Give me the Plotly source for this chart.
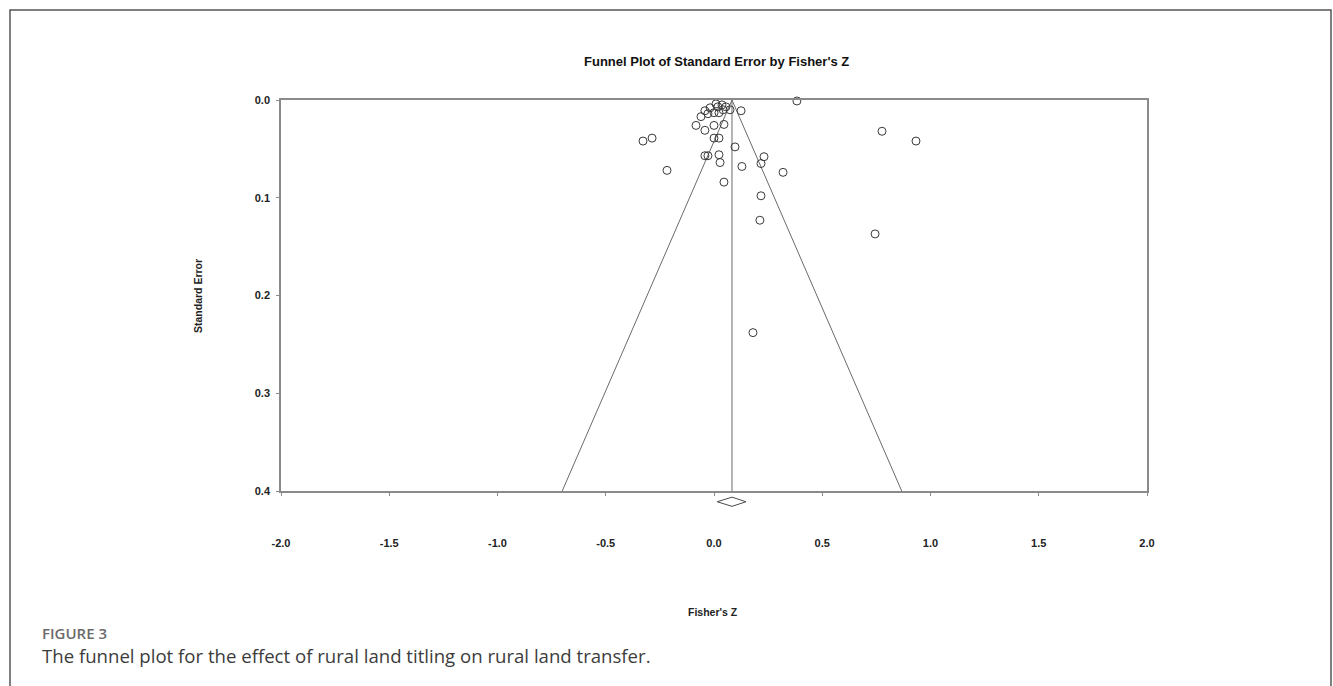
import plotly.graph_objects as go

# Study-level effect sizes (Fisher's Z) and their standard errors
fisher_z = [
    0.383, 0.125, 0.074, 0.009, -0.042, -0.018, 0.018, 0.042, 0.000, 0.037,
    -0.028, 0.023, 0.055, -0.060, -0.083, -0.042, 0.000, 0.046, -0.328, -0.286,
    0.000, 0.023, 0.097, -0.042, -0.028, 0.023, 0.028, 0.231, 0.217, 0.129,
    0.319, -0.217, 0.046, 0.217, 0.212, 0.776, 0.933, 0.744, 0.180,
]
std_err = [
    0.001, 0.011, 0.010, 0.004, 0.011, 0.008, 0.007, 0.010, 0.013, 0.005,
    0.014, 0.013, 0.007, 0.017, 0.026, 0.031, 0.026, 0.025, 0.042, 0.039,
    0.039, 0.039, 0.048, 0.057, 0.057, 0.056, 0.064, 0.058, 0.065, 0.068,
    0.074, 0.072, 0.084, 0.098, 0.123, 0.032, 0.042, 0.137, 0.238,
]

# Pooled estimate and its confidence interval
pooled_z = 0.083
pooled_lo = 0.015
pooled_hi = 0.148
z_crit = 1.96
se_max = 0.4

x_tick_vals = [-2.0, -1.5, -1.0, -0.5, 0.0, 0.5, 1.0, 1.5, 2.0]
x_tick_text = ["-2.0", "-1.5", "-1.0", "-0.5", "0.0", "0.5", "1.0", "1.5", "2.0"]
y_tick_vals = [0.0, 0.1, 0.2, 0.3, 0.4]
y_tick_text = ["0.0", "0.1", "0.2", "0.3", "0.4"]

W, H = 1333, 686
# plot area in pixels
px_left, px_right, px_top, px_bottom = 281, 1147, 100, 491
px_diamond_bottom = 520

dom_x = [px_left / W, px_right / W]
dom_y = [1 - px_bottom / H, 1 - px_top / H]
dom_y2 = [1 - px_diamond_bottom / H, 1 - px_top / H]
y2_max = se_max * (dom_y2[1] - dom_y2[0]) / (dom_y[1] - dom_y[0])

line_col = "#6a6a6a"
frame_col = "#8a8a8a"
bold_font = "Liberation Sans"

fig = go.Figure()

# funnel: pooled line and pseudo 95% limits
fig.add_trace(go.Scatter(
    x=[pooled_z - z_crit * se_max, pooled_z, pooled_z + z_crit * se_max],
    y=[se_max, 0, se_max],
    mode="lines", line=dict(color=line_col, width=1), hoverinfo="skip",
))
fig.add_trace(go.Scatter(
    x=[pooled_z, pooled_z], y=[0, se_max],
    mode="lines", line=dict(color=line_col, width=1), hoverinfo="skip",
))

# studies
fig.add_trace(go.Scatter(
    x=fisher_z, y=std_err, mode="markers",
    marker=dict(symbol="circle-open", size=8, color="#3a3a3a",
                line=dict(width=1, color="#3a3a3a")),
    cliponaxis=False,
))

# pooled diamond drawn below the axis on an auxiliary subplot
d_h = 0.0047
d_y = 0.411
fig.add_trace(go.Scatter(
    x=[pooled_lo, pooled_z, pooled_hi, pooled_z, pooled_lo],
    y=[d_y, d_y - d_h, d_y, d_y + d_h, d_y],
    mode="lines", line=dict(color="#4a4a4a", width=1),
    xaxis="x2", yaxis="y2", hoverinfo="skip",
))

fig.update_layout(
    width=W, height=H, autosize=False,
    margin=dict(l=0, r=0, t=0, b=0, pad=0, autoexpand=False),
    paper_bgcolor="white", plot_bgcolor="rgba(0,0,0,0)",
    showlegend=False,
    xaxis=dict(
        domain=dom_x, range=[-2, 2], anchor="y", automargin=False,
        tickvals=x_tick_vals, ticktext=x_tick_text,
        ticks="outside", ticklen=3, tickcolor=frame_col, tickwidth=1,
        showline=True, linecolor=frame_col, linewidth=1.5, mirror=True,
        showgrid=False, zeroline=False,
        tickfont=dict(family=bold_font, size=11, color="#222", weight="bold"),
        ticklabelstandoff=38,
    ),
    yaxis=dict(
        domain=dom_y, range=[se_max, 0], anchor="x", automargin=False,
        tickvals=y_tick_vals, ticktext=y_tick_text,
        ticks="outside", ticklen=3, tickcolor=frame_col, tickwidth=1,
        showline=True, linecolor=frame_col, linewidth=1.5, mirror=True,
        showgrid=False, zeroline=False,
        tickfont=dict(family=bold_font, size=11, color="#222", weight="bold"),
        ticklabelstandoff=4,
    ),
    xaxis2=dict(domain=dom_x, range=[-2, 2], anchor="y2", visible=False,
                automargin=False),
    yaxis2=dict(domain=dom_y2, range=[y2_max, 0], anchor="x2", visible=False,
                automargin=False),
)

annotations = [
    dict(text="<b>Funnel Plot of Standard Error by Fisher's Z</b>",
         x=716 / W, y=1 - 61 / H, xref="paper", yref="paper",
         xanchor="center", yanchor="middle", showarrow=False,
         font=dict(family=bold_font, size=13, color="#111")),
    dict(text="<b>Fisher's Z</b>",
         x=713 / W, y=1 - 612 / H, xref="paper", yref="paper",
         xanchor="center", yanchor="middle", showarrow=False,
         font=dict(family=bold_font, size=10.5, color="#222")),
    dict(text="<b>Standard Error</b>",
         x=198 / W, y=1 - 296 / H, xref="paper", yref="paper",
         xanchor="center", yanchor="middle", showarrow=False, textangle=-90,
         font=dict(family=bold_font, size=10.5, color="#222")),
    dict(text="FIGURE 3",
         x=40 / W, y=1 - 633 / H, xref="paper", yref="paper",
         xanchor="left", yanchor="middle", showarrow=False,
         font=dict(family="Open Sans", size=15, color="#6b6b6b", weight=600)),
    dict(text="The funnel plot for the effect of rural land titling on rural land transfer.",
         x=40 / W, y=1 - 655 / H, xref="paper", yref="paper",
         xanchor="left", yanchor="middle", showarrow=False,
         font=dict(family="Open Sans", size=18.6, color="#3c3c3c")),
]
fig.update_layout(annotations=annotations)

# outer figure frame
fig.add_shape(type="rect", xref="paper", yref="paper",
              x0=10 / W, x1=1331 / W, y0=-0.05, y1=1 - 10 / H,
              line=dict(color="#555", width=1.5), fillcolor="rgba(0,0,0,0)")

fig.write_html("out.html")
